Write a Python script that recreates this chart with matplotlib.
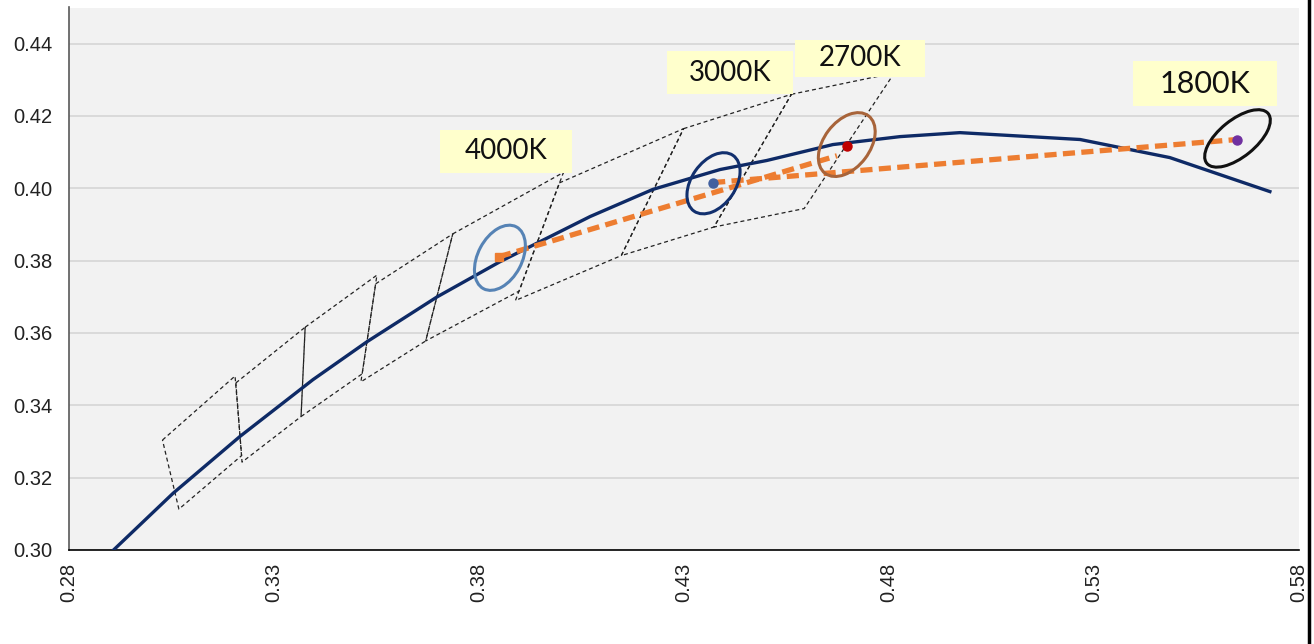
import numpy as np
import matplotlib
matplotlib.use('Agg')
import matplotlib.pyplot as plt
from matplotlib.patches import Ellipse, Rectangle
from matplotlib.transforms import ScaledTranslation
from matplotlib.lines import Line2D

# planckian locus (CIE 1931 x, y)
locus_x = [0.2904, 0.3054, 0.3217, 0.3395, 0.3527, 0.3698, 0.3851, 0.4071, 0.4224,
           0.4388, 0.4502, 0.4663, 0.4827, 0.4973, 0.5266, 0.5485, 0.5729]
locus_y = [0.2995, 0.3157, 0.3314, 0.3471, 0.3576, 0.3700, 0.3797, 0.3922, 0.3997,
           0.4052, 0.4077, 0.4121, 0.4143, 0.4154, 0.4135, 0.4085, 0.3991]

# ANSI quadrangles (top-left, top-right, bottom-right, bottom-left)
quad_names = ['6500K', '5700K', '5000K', '4500K', '4000K', '3500K', '3000K', '2700K']
quad_x = [[0.3028, 0.3205, 0.3221, 0.3068],
          [0.3207, 0.3376, 0.3366, 0.3222],
          [0.3376, 0.3551, 0.3515, 0.3366],
          [0.3548, 0.3736, 0.3670, 0.3512],
          [0.3736, 0.4006, 0.3898, 0.3670],
          [0.3996, 0.4299, 0.4147, 0.3889],
          [0.4299, 0.4562, 0.4373, 0.4147],
          [0.4562, 0.4813, 0.4593, 0.4373]]
quad_y = [[0.3304, 0.3481, 0.3261, 0.3113],
          [0.3462, 0.3616, 0.3369, 0.3243],
          [0.3616, 0.3760, 0.3487, 0.3369],
          [0.3736, 0.3874, 0.3578, 0.3465],
          [0.3874, 0.4044, 0.3716, 0.3578],
          [0.4015, 0.4165, 0.3814, 0.3690],
          [0.4165, 0.4260, 0.3893, 0.3814],
          [0.4260, 0.4319, 0.3944, 0.3893]]

# measured points
cct_labels = ['4000K', '3000K', '2700K', '1800K']
pt_x = [0.3849, 0.4371, 0.4698, 0.5649]
pt_y = [0.3811, 0.4016, 0.4118, 0.4135]

# orange dashed trajectories
path1_x = [0.3849, 0.4673]
path1_y = [0.3811, 0.4090]
path2_x = [0.4371, 0.5649]
path2_y = [0.4016, 0.4135]

# ellipse centres
ell_x = [0.3851, 0.4372, 0.4697, 0.5650]
ell_y = [0.3808, 0.4014, 0.4121, 0.4138]

# styling / layout
ell_size = [(70, 44, 62), (68, 44, 55), (72, 46, 53), (79, 37, 39)]  # px major, minor, angle
ell_col = ['#5683B5', '#12306E', '#A8643A', '#111111']
dot_col = ['#ED7D31', '#41609F', '#C00000', '#7030A0']
dot_mk = ['s', 'o', 'o', 'o']
box_pos = [(0.3866, 0.4103, 0.0322, 0.0119, 20),
           (0.4412, 0.4319, 0.0307, 0.0119, 20),
           (0.4729, 0.4359, 0.0317, 0.0105, 20),
           (0.5571, 0.4289, 0.0351, 0.0125, 22)]

fig = plt.figure(figsize=(13.14, 6.44), dpi=100)
ax = fig.add_axes([69/1314, 94/644, 1230/1314, 542.5/644])
ax.set_facecolor('#F2F2F2')
ax.set_xlim(0.28, 0.58)
ax.set_ylim(0.30, 0.45)

xt = np.arange(0.28, 0.5801, 0.05)
yt = np.arange(0.30, 0.4401, 0.02)
ax.set_xticks(xt)
ax.set_xticklabels(['%.2f' % v for v in xt], rotation=90)
ax.set_yticks(yt)
ax.set_yticklabels(['%.2f' % v for v in yt])
ax.tick_params(axis='both', length=0, labelsize=14.5, colors='#222222')
ax.tick_params(axis='x', pad=9)
ax.tick_params(axis='y', pad=12)
for lbl in ax.get_xticklabels() + ax.get_yticklabels():
    lbl.set_family(['Liberation Sans', 'DejaVu Sans'])

ax.yaxis.grid(True, color='#D6D6D6', lw=1.2)
ax.set_axisbelow(True)
for s in ['top', 'right']:
    ax.spines[s].set_visible(False)
ax.spines['left'].set_color('#595959')
ax.spines['left'].set_linewidth(1.2)
ax.spines['bottom'].set_color('black')
ax.spines['bottom'].set_linewidth(1.2)

# quadrangles
for qx, qy in zip(quad_x, quad_y):
    ax.plot(qx + qx[:1], qy + qy[:1], color='#222222', lw=0.9,
            dashes=(3.2, 2.4), zorder=2)

# locus
ax.plot(locus_x, locus_y, color='#0E2A66', lw=2.4, zorder=3, solid_joinstyle='round')

# orange trajectories
for px, py in [(path1_x, path1_y), (path2_x, path2_y)]:
    ax.plot(px, py, color='#ED7D31', lw=3.8, dashes=(2.3, 1.2),
            dash_capstyle='butt', zorder=4)

# ellipses, sized in pixels around data centres
for cx, cy, (w, h, a), c in zip(ell_x, ell_y, ell_size, ell_col):
    tr = fig.dpi_scale_trans + ScaledTranslation(cx, cy, ax.transData)
    ax.add_patch(Ellipse((0, 0), w / 100, h / 100, angle=a, transform=tr,
                         fill=False, edgecolor=c, lw=2.2, zorder=5))

# points
for x, y, c, m in zip(pt_x, pt_y, dot_col, dot_mk):
    ax.plot([x], [y], marker=m, color=c, ms=6.5 if m == 'o' else 6,
            ls='none', zorder=6)

# labels
for (bx, by, bw, bh, fs), txt in zip(box_pos, cct_labels):
    ax.add_patch(Rectangle((bx - bw / 2, by - bh / 2), bw, bh,
                           facecolor='#FFFFCC', edgecolor='none', zorder=7))
    ax.text(bx, by, txt, ha='center', va='center', fontsize=fs,
            family=['Lato', 'DejaVu Sans'], color='#111111', zorder=8)

fig.add_artist(Line2D([1309/1314, 1309/1314], [0, 1], color='black', lw=2.5,
                      transform=fig.transFigure))

fig.savefig('out.png', dpi=100)
